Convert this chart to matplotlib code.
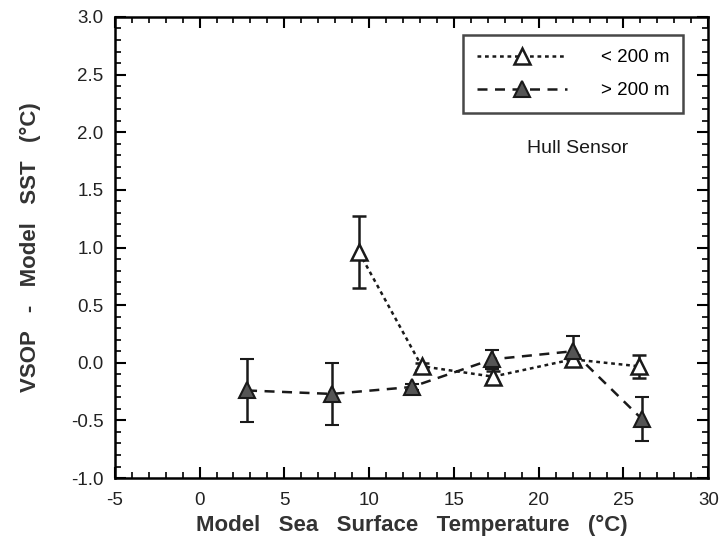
import matplotlib.pyplot as plt
from matplotlib.lines import Line2D
from matplotlib.ticker import MultipleLocator, FormatStrFormatter

plt.rcParams['font.family'] = ['Liberation Sans', 'DejaVu Sans']
plt.rcParams['axes.unicode_minus'] = False

# < 200 m (open triangles)
shallow_x = [9.4, 13.1, 17.3, 22.0, 25.9]
shallow_y = [0.96, -0.03, -0.12, 0.03, -0.03]
shallow_err = [0.31, 0.03, 0.05, 0.04, 0.10]

# > 200 m (closed triangles)
deep_x = [2.8, 7.8, 12.5, 17.25, 22.0, 26.1]
deep_y = [-0.24, -0.27, -0.21, 0.03, 0.10, -0.49]
deep_err = [0.27, 0.27, 0.03, 0.08, 0.13, 0.19]

dotted = (0, (1.5, 1.5))
dashed = (0, (4, 3))

fig = plt.figure(figsize=(7.22, 5.47), dpi=100)
ax = fig.add_axes([0.159, 0.126, 0.822, 0.843])

ax.errorbar(shallow_x, shallow_y, yerr=shallow_err, color='#1a1a1a',
            linestyle=dotted, linewidth=1.8, marker='^', markersize=11,
            markerfacecolor='white', markeredgecolor='#1a1a1a', markeredgewidth=1.8,
            capsize=5, elinewidth=1.8, capthick=1.8)
ax.errorbar(deep_x, deep_y, yerr=deep_err, color='#1a1a1a',
            linestyle=dashed, linewidth=1.8, marker='^', markersize=11,
            markerfacecolor='#555555', markeredgecolor='#1a1a1a', markeredgewidth=1.5,
            capsize=5, elinewidth=1.8, capthick=1.8)

ax.set_xlim(-5, 30)
ax.set_ylim(-1.0, 3.0)
ax.xaxis.set_major_locator(MultipleLocator(5))
ax.xaxis.set_minor_locator(MultipleLocator(1))
ax.yaxis.set_major_locator(MultipleLocator(0.5))
ax.yaxis.set_minor_locator(MultipleLocator(0.1))
ax.yaxis.set_major_formatter(FormatStrFormatter('%.1f'))
ax.tick_params(which='both', direction='in', top=True, right=True, labelsize=13.5,
               labelcolor='#222222')
ax.tick_params(axis='x', which='major', pad=10)
ax.tick_params(axis='y', which='major', pad=8)
ax.tick_params(which='major', length=8, width=1.5)
ax.tick_params(which='minor', length=4, width=1.2)
for s in ax.spines.values():
    s.set_linewidth(1.8)

ax.set_xlabel('Model   Sea   Surface   Temperature   (°C)', fontsize=16,
              fontweight='bold', color='#333333', labelpad=4)
ax.set_ylabel('VSOP   -   Model   SST   (°C)', fontsize=16, fontweight='bold',
              color='#333333', labelpad=22)

handles = [
    Line2D([], [], color='#1a1a1a', linestyle=dotted, linewidth=1.8, marker='^',
           markersize=11, markerfacecolor='white', markeredgewidth=1.8),
    Line2D([], [], color='#1a1a1a', linestyle=dashed, linewidth=1.8, marker='^',
           markersize=11, markerfacecolor='#555555', markeredgewidth=1.5),
]
leg = ax.legend(handles, ['< 200 m', '> 200 m'], loc='upper right',
                bbox_to_anchor=(0.958, 0.961), borderaxespad=0, fontsize=13.5,
                frameon=True, fancybox=False, edgecolor='#1a1a1a',
                handlelength=4.8, handletextpad=1.8, labelspacing=0.85,
                borderpad=0.75)
leg.get_frame().set_linewidth(1.8)
ax.text(22.3, 1.86, 'Hull Sensor', fontsize=14, ha='center', va='center',
        color='#1a1a1a')

fig.savefig('out.png', dpi=100)
